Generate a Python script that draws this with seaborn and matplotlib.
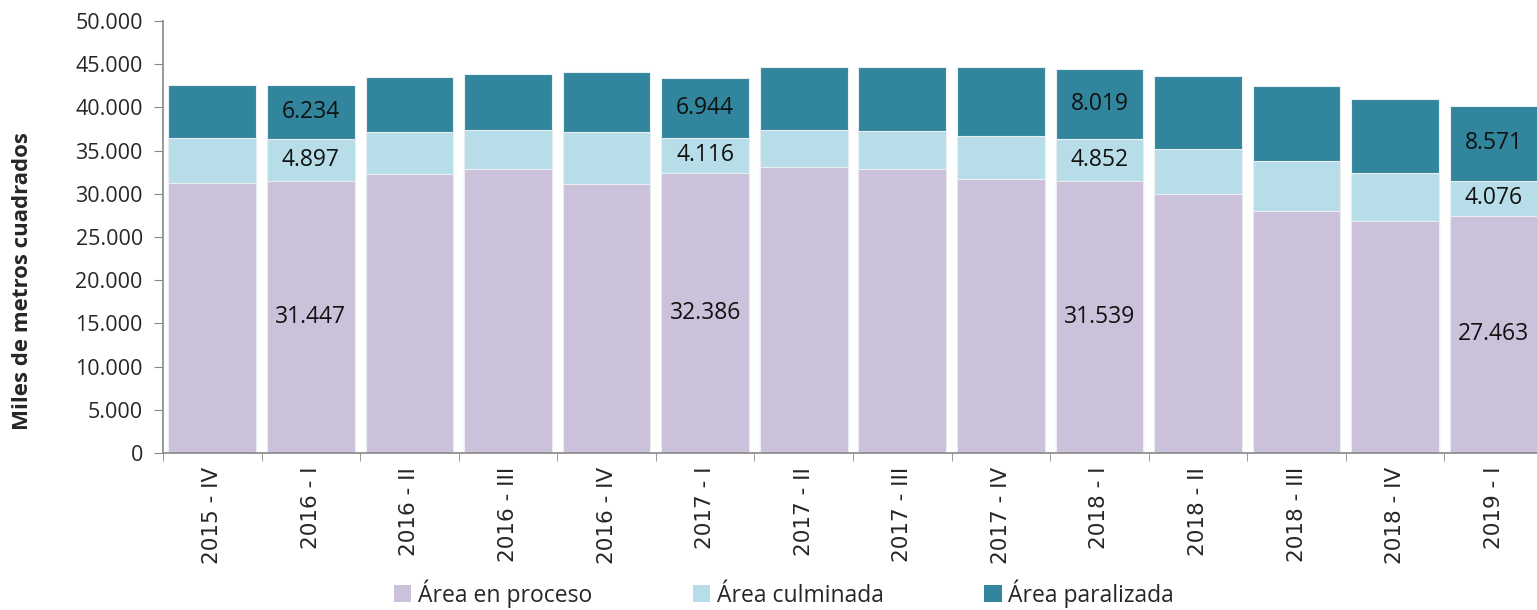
import numpy as np
import pandas as pd
import matplotlib
matplotlib.use("Agg")
import matplotlib.pyplot as plt
import matplotlib.ticker as mticker
from matplotlib.patches import Patch
import seaborn as sns

# %% data
periodos = ["2015 - IV", "2016 - I", "2016 - II", "2016 - III", "2016 - IV",
            "2017 - I", "2017 - II", "2017 - III", "2017 - IV",
            "2018 - I", "2018 - II", "2018 - III", "2018 - IV", "2019 - I"]
proceso = [31210, 31447, 32250, 32870, 31170, 32386, 33140, 32910, 31750,
           31539, 30010, 28010, 26890, 27463]
culminada = [5280, 4897, 4860, 4510, 5980, 4116, 4240, 4320, 4900,
             4852, 5180, 5750, 5550, 4076]
paralizada = [6070, 6234, 6410, 6490, 6910, 6944, 7260, 7480, 8060,
              8019, 8440, 8680, 8570, 8571]
etiquetados = ["2016 - I", "2017 - I", "2018 - I", "2019 - I"]

series = ["Área en proceso", "Área culminada", "Área paralizada"]
colores = ["#CBC1DA", "#B7DEE8", "#31859C"]

df = pd.DataFrame({"periodo": periodos, "proceso": proceso,
                   "culminada": culminada, "paralizada": paralizada})
df["nivel1"] = df["proceso"]
df["nivel2"] = df["proceso"] + df["culminada"]
df["nivel3"] = df["nivel2"] + df["paralizada"]

sns.set_style("white")
plt.rcParams["font.family"] = ["Open Sans", "DejaVu Sans"]

fig = plt.figure(figsize=(15.37, 6.10), dpi=100)
ax = fig.add_axes([163 / 1537, 1 - 453 / 610, 1380 / 1537, 432 / 610])

# stacked bars drawn as cumulative overlays, tallest first
for col, c in zip(["nivel3", "nivel2", "nivel1"], colores[::-1]):
    sns.barplot(data=df, x="periodo", y=col, order=periodos, color=c,
                width=0.89, edgecolor="#E8EEF2", linewidth=0.8,
                saturation=1, ax=ax)

def fmt(v):
    return f"{int(v):,}".replace(",", ".")

# data labels
for i, p in enumerate(periodos):
    if p not in etiquetados:
        continue
    r = df.iloc[i]
    ax.text(i, r["proceso"] / 2, fmt(r["proceso"]),
            ha="center", va="center", fontsize=16.5, color="#111111")
    ax.text(i, r["nivel1"] + r["culminada"] / 2, fmt(r["culminada"]),
            ha="center", va="center", fontsize=16.5, color="#111111")
    ax.text(i, r["nivel2"] + r["paralizada"] / 2, fmt(r["paralizada"]),
            ha="center", va="center", fontsize=16.5, color="#111111")

ax.set_ylim(0, 50000)
ax.set_xlim(-0.5, len(periodos) - 0.5)
ax.yaxis.set_major_locator(mticker.MultipleLocator(5000))
ax.yaxis.set_major_formatter(mticker.FuncFormatter(lambda v, pos: fmt(v)))
ax.tick_params(axis="y", labelsize=15.5, length=6.5, color="#888888",
               left=True, pad=8)
ax.set_ylabel("Miles de metros cuadrados", fontsize=16, fontweight="bold")
ax.yaxis.set_label_coords(-0.094, 0.398)
ax.set_xlabel("")

ax.set_xticks(range(len(periodos)))
ax.set_xticklabels(periodos, rotation=90, fontsize=15.5, family="DejaVu Sans")
ax.tick_params(axis="x", which="major", length=0, pad=10)
ax.set_xticks(np.arange(-0.5, len(periodos), 1), minor=True)
ax.tick_params(axis="x", which="minor", length=6, color="#888888", bottom=True)

for s in ["top", "right"]:
    ax.spines[s].set_visible(False)
for s in ["left", "bottom"]:
    ax.spines[s].set_color("#888888")
    ax.spines[s].set_linewidth(1.2)

handles = [Patch(facecolor=c, edgecolor="none") for c in colores]
fig.legend(handles, series, loc="lower center", bbox_to_anchor=(0.51, -0.03),
           ncol=3, frameon=False, fontsize=16.5, handlelength=0.75,
           handleheight=0.75, handletextpad=0.3, columnspacing=4.4)

fig.savefig("out.png", dpi=100)
